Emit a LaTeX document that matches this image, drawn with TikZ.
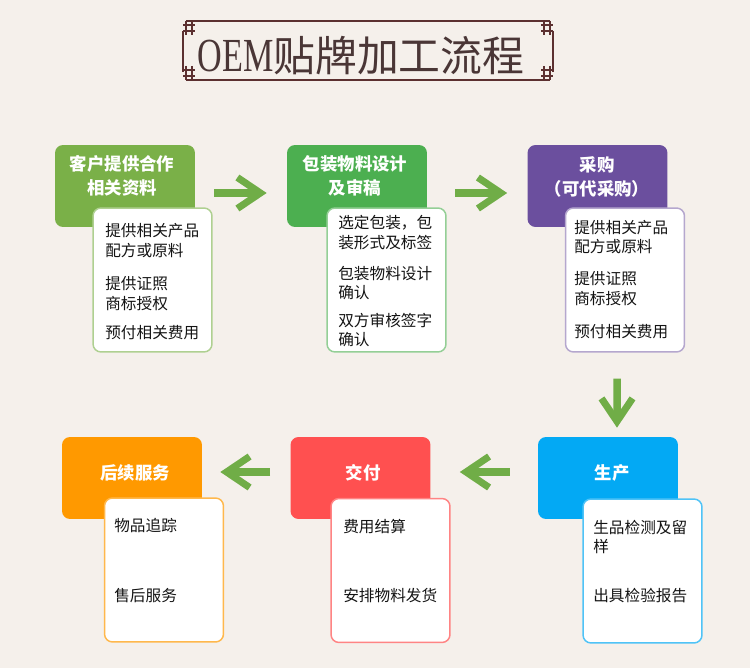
\documentclass[tikz,border=0pt]{standalone}
\usepackage{fontspec}
\usetikzlibrary{arrows.meta}
\newfontfamily\cjk{Noto Sans CJK SC}
\newfontfamily\oemfont[FakeStretch=0.72]{Liberation Serif}
\definecolor{paper}{HTML}{F5F0EB}
\definecolor{framebrown}{HTML}{5C3030}
\definecolor{titleink}{HTML}{4A3636}
\definecolor{ink}{HTML}{141414}
\definecolor{leafgreen}{HTML}{7AB048}
\definecolor{grassgreen}{HTML}{4CAF50}
\definecolor{grapepurple}{HTML}{6B4F9E}
\definecolor{skyblue}{HTML}{03A9F4}
\definecolor{tomatored}{HTML}{FF5050}
\definecolor{sunorange}{HTML}{FF9900}
\definecolor{arrowgreen}{HTML}{70AD47}
\begin{document}
\begin{tikzpicture}[x=0.02cm, y=-0.02cm, line join=round,
  header/.style={rounded corners=0.16cm, minimum width=2.8cm, minimum height=1.64cm, inner sep=0},
  card/.style={line width=0.03cm, fill=white, rounded corners=0.16cm, minimum width=2.38cm, minimum height=2.88cm, inner sep=0},
  headtext/.style={text=white, font=\cjk\bfseries\fontsize{9.9}{13.6}\selectfont, align=center, inner sep=0},
  itemtext/.style={text=ink, font=\cjk\fontsize{8.9}{11.3}\selectfont, align=left, anchor=west, inner sep=0},
  flow/.style={draw=arrowgreen, line width=0.15cm, line join=miter,
    -{Straight Barb[sharp, length=0.46cm, width=0.62cm, line width=0.14cm]}},
  frame/.style={draw=framebrown, line width=0.03cm}]
  % el fondo
  \fill[paper] (0,0) rectangle (750,668);
  \useasboundingbox (0,0) rectangle (750,668);
  % el marco del título
  \draw[frame] (186,21) -- (550,21); \draw[frame] (186,80) -- (550,80);
  \draw[frame] (183,31) -- (183,72); \draw[frame] (553,31) -- (553,72);
  \foreach \cx/\cy in {189/28, 189/73, 547/28, 547/73}
    \draw[frame] ({\cx-6},{\cy-3}) -- ({\cx+6},{\cy-3}) ({\cx-6},{\cy+3}) -- ({\cx+6},{\cy+3})
                 ({\cx-3},{\cy-7}) -- ({\cx-3},{\cy+7}) ({\cx+3},{\cy-7}) -- ({\cx+3},{\cy+7});
  \node[anchor=base, text=titleink, inner sep=0] (title) at (361,72)
    {{\oemfont\fontsize{27}{27}\selectfont OEM}{\cjk\fontsize{23.8}{23.8}\selectfont 贴牌加工流程}};
  % las cabeceras
  \node[header, fill=leafgreen] (kehu) at (125,186) {};
  \node[header, fill=grassgreen] (baozhuang) at (357,186) {};
  \node[header, fill=grapepurple] (caigou) at (597.5,186) {};
  \node[header, fill=skyblue] (shengchan) at (608,478) {};
  \node[header, fill=tomatored] (jiaofu) at (360.5,478) {};
  \node[header, fill=sunorange] (houxu) at (132,478) {};
  \node[headtext] (kehuT) at (122,176) {客户提供合作\\相关资料};
  \node[headtext] (baozhuangT) at (355,176) {包装物料设计\\及审稿};
  \node[headtext] (caigouT) at (597,177) {采购\\（可代采购）};
  \node[headtext] (shengchanT) at (612,473) {生产};
  \node[headtext] (jiaofuT) at (363,473) {交付};
  \node[headtext] (houxuT) at (135,473) {后续服务};
  % las tarjetas blancas
  \node[card, draw=leafgreen!60] (kehuC) at (152.5,280) {};
  \node[card, draw=grassgreen!60] (baozhuangC) at (386.5,280) {};
  \node[card, draw=grapepurple!50] (caigouC) at (625,280) {};
  \node[card, draw=skyblue!70] (shengchanC) at (642.5,571) {};
  \node[card, draw=tomatored!70] (jiaofuC) at (390.5,570.5) {};
  \node[card, draw=sunorange!70] (houxuC) at (164,570) {};
  \node[itemtext] (kehu1) at (105,240.5) {提供相关产品\\配方或原料};
  \node[itemtext] (kehu2) at (105,293.5) {提供证照\\商标授权};
  \node[itemtext] (kehu3) at (105,333) {预付相关费用};
  \node[itemtext] (baozhuang1) at (338,232.5) {选定包装，包\\装形式及标签};
  \node[itemtext] (baozhuang2) at (338,283) {包装物料设计\\确认};
  \node[itemtext] (baozhuang3) at (338,330) {双方审核签字\\确认};
  \node[itemtext] (caigou1) at (574,237) {提供相关产品\\配方或原料};
  \node[itemtext] (caigou2) at (574,289) {提供证照\\商标授权};
  \node[itemtext] (caigou3) at (574,332) {预付相关费用};
  \node[itemtext] (shengchan1) at (593,537) {生品检测及留\\样};
  \node[itemtext] (shengchan2) at (593,596) {出具检验报告};
  \node[itemtext] (jiaofu1) at (343,527) {费用结算};
  \node[itemtext] (jiaofu2) at (343,596) {安排物料发货};
  \node[itemtext] (houxu1) at (114,526) {物品追踪};
  \node[itemtext] (houxu2) at (114,596) {售后服务};
  % las flechas
  \draw[flow, shorten <=0.38cm, shorten >=0.4cm] ([yshift=-0.14cm]kehu.east) -- ([yshift=-0.14cm]baozhuang.west);
  \draw[flow, shorten <=0.56cm, shorten >=0.4cm] ([yshift=-0.14cm]baozhuang.east) -- ([yshift=-0.14cm]caigou.west);
  \draw[flow, shorten <=0.52cm, shorten >=0.18cm] ([xshift=-0.16cm]caigouC.south) -- ([xshift=0.18cm]shengchan.north);
  \draw[flow, shorten <=0.56cm, shorten >=0.58cm] ([yshift=0.12cm]shengchan.west) -- ([yshift=0.12cm]jiaofu.east);
  \draw[flow, shorten <=0.4cm, shorten >=0.36cm] ([yshift=0.12cm]jiaofu.west) -- ([yshift=0.12cm]houxu.east);
\end{tikzpicture}
\end{document}
